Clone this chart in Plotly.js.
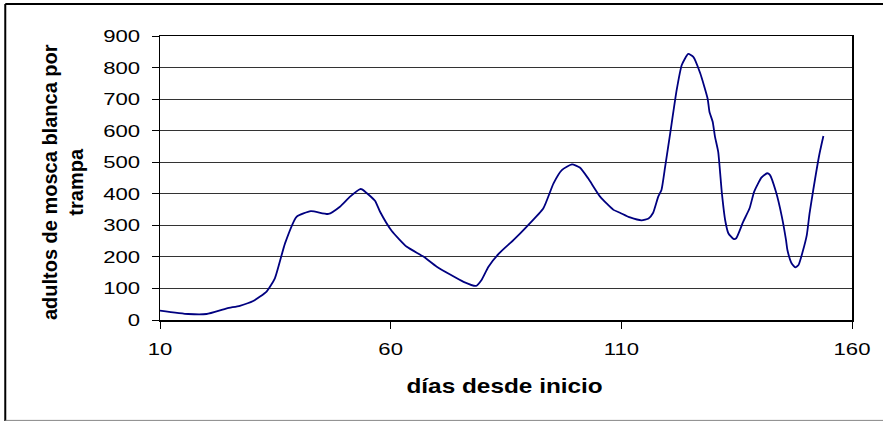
<!DOCTYPE html>
<html>
<head>
<meta charset="utf-8">
<script src="https://cdn.plot.ly/plotly-3.0.1.min.js"></script>
<style>
  html, body { margin: 0; padding: 0; background: #fff; }
  #chart { width: 883px; height: 421px; }
</style>
</head>
<body>
<div id="chart"></div>
<script>
// días desde inicio
const days = [10,16.1,20.1,24.5,27.3,30.2,33.1,34.9,37.1,39.6,42.7,46.5,49.0,51.2,53.4,53.8,56.6,57.7,60.2,63.5,67.1,70.0,75.8,78.5,79.7,81.2,83.5,86.6,89.5,93.1,95.3,97.1,99.3,101.0,102.8,105.4,108.3,109.7,111.9,114.4,115.9,116.9,118.0,118.7,119.5,120.6,122.0,123.1,124.5,125.6,127.1,128.7,129.1,129.8,130.3,131.0,131.8,132.5,133.2,134.3,134.9,136.4,137.8,138.8,140.4,141.6,142.2,143.5,144.8,145.7,146.0,146.9,147.7,148.4,149.3,150.2,150.8,151.6,152.9,153.8];
// adultos de mosca blanca por trampa
const adults = [30,19,19,37,45,60,90,132,243,327,345,336,359,391,415,414,378,343,283,232,201,169,121,108,127,169,211,253,296,354,433,475,493,483,449,391,349,340,325,316,322,340,391,412,486,592,729,808,843,834,782,702,660,628,581,533,401,317,275,257,259,311,354,407,452,465,460,407,327,253,222,180,167,174,216,269,338,412,523,583];
const xTicks = [10, 60, 110, 160];
const yTicks = [0, 100, 200, 300, 400, 500, 600, 700, 800, 900];
const xTitle = 'días desde inicio';
const yTitle = 'adultos de mosca blanca por<br>trampa';

const FONT = 'Liberation Sans, Arial, sans-serif';

const trace = {
  x: days, y: adults, type: 'scatter', mode: 'lines',
  line: { color: '#000080', width: 1.8, shape: 'spline', smoothing: 0.5 },
  hoverinfo: 'skip'
};

const layout = {
  width: 883, height: 421,
  margin: { l: 160, r: 31, t: 36, b: 101, pad: 0 },
  paper_bgcolor: '#fff', plot_bgcolor: '#fff',
  showlegend: false,
  font: { family: FONT, color: '#000', size: 17 },
  xaxis: {
    range: [10, 160], tickvals: xTicks, ticktext: xTicks.map(String),
    ticks: 'outside', ticklen: 7, tickcolor: '#000', tickwidth: 1,
    showgrid: false, zeroline: false,
    showline: true, linecolor: '#000', linewidth: 1.5, mirror: true,
    ticklabelstandoff: 6,
    tickfont: { family: FONT, size: 17, color: '#000' }
  },
  yaxis: {
    range: [0, 900], tickvals: yTicks, ticktext: yTicks.map(String),
    ticks: 'outside', ticklen: 7, tickcolor: '#000', tickwidth: 1,
    showgrid: true, gridcolor: '#333', gridwidth: 1, zeroline: false,
    showline: true, linecolor: '#000', linewidth: 1.5, mirror: true,
    ticklabelstandoff: 8,
    tickfont: { family: FONT, size: 17, color: '#000' }
  },
  annotations: [
    { text: '<b>' + xTitle + '</b>', xref: 'paper', yref: 'paper',
      x: 0.498, y: -0.232, xanchor: 'center', yanchor: 'middle',
      showarrow: false, font: { family: FONT, size: 21, color: '#000' } },
    { text: '<b>' + yTitle + '</b>', xref: 'paper', yref: 'paper',
      x: -0.14, y: 0.486, xanchor: 'center', yanchor: 'middle', textangle: -90,
      showarrow: false, font: { family: FONT, size: 20, color: '#000' } }
  ],
  shapes: [
    { type: 'line', xref: 'paper', yref: 'paper', x0: -0.2236, x1: 1.1, y0: 1.1127, y1: 1.1127,
      line: { color: '#000', width: 2 } },
    { type: 'line', xref: 'paper', yref: 'paper', x0: -0.2236, x1: -0.2236, y0: -0.36, y1: 1.1127,
      line: { color: '#000', width: 2 } },
    { type: 'line', xref: 'paper', yref: 'paper', x0: -0.2236, x1: 1.1, y0: -0.3535, y1: -0.3535,
      line: { color: '#888', width: 1 } }
  ]
};

Plotly.newPlot('chart', [trace], layout, { displayModeBar: false, staticPlot: true }).then(function () {
  function stretch(els, f) {
    els.forEach(function (el) {
      const w = el.getComputedTextLength();
      if (w > 0) {
        el.setAttribute('textLength', (w * f).toFixed(1));
        el.setAttribute('lengthAdjust', 'spacingAndGlyphs');
      }
    });
  }
  stretch(document.querySelectorAll('.xtick text, .ytick text'), 1.3);
  const ann = document.querySelectorAll('.annotation-text');
  if (ann.length) stretch([ann[0]], 1.16);
});
</script>
</body>
</html>
